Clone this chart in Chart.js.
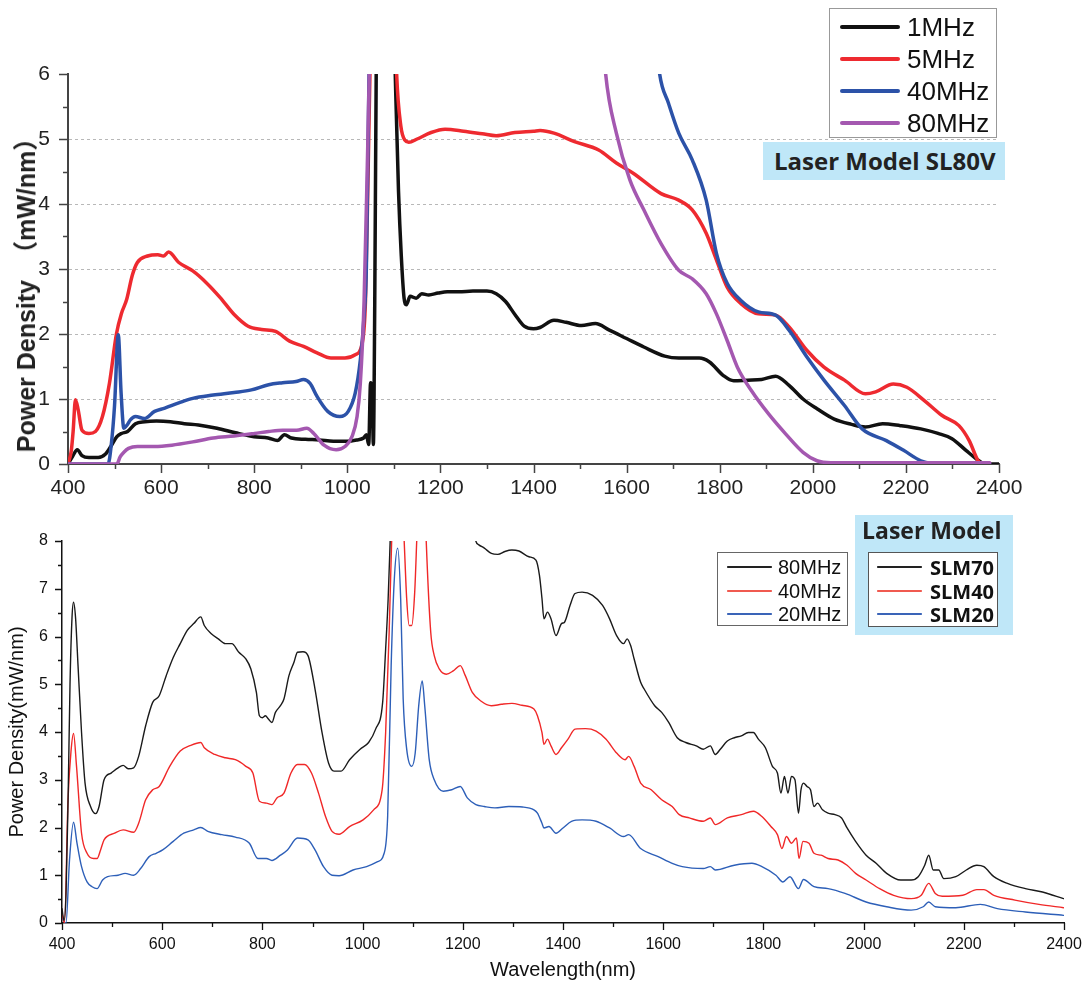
<!DOCTYPE html>
<html lang="en">
<head>
<meta charset="UTF-8">
<title>Laser power density spectra</title>
<script src="https://cdn.jsdelivr.net/npm/chart.js"></script>
<style>
  body { margin: 0; background: #fff; width: 1083px; height: 985px; position: relative; overflow: hidden; }
  canvas { position: absolute; left: 0; }
  #topChart { top: 0; }
  #bottomChart { top: 510px; }
  .box { position: absolute; box-sizing: border-box; }
  .row { position: absolute; display: flex; align-items: center; white-space: nowrap; }
  .swatch { display: inline-block; }
  .ytitle { position: absolute; white-space: pre; transform: translate(-50%, -50%) rotate(-90deg);
            font: bold 25px 'Liberation Sans', 'Noto Sans CJK SC', sans-serif; color: #222; }
</style>
</head>
<body>
<canvas id="topChart" width="1083" height="510"></canvas>
<canvas id="bottomChart" width="1083" height="475"></canvas>

<div class="ytitle" style="left:24px; top:289px;">Power Density  （mW/nm）</div>

<!-- top legend -->
<div class="box" style="left:829px; top:8px; width:168px; height:130px; border:1.5px solid #999; background:#fff;"></div>
<div id="topLegend"></div>
<div class="box" style="left:763px; top:142px; width:242px; height:38px; background:#bfe7f8;
     font: bold 24px 'Open Sans', sans-serif; color:#222; line-height:38px; padding-left:11px;">Laser Model SL80V</div>

<!-- bottom legends -->
<div class="box" style="left:717px; top:552px; width:131px; height:74px; border:1.5px solid #666; background:#fff;"></div>
<div class="box" style="left:855px; top:515px; width:158px; height:120px; background:#bfe7f8;"></div>
<div class="box" style="left:862px; top:514px; font: bold 23px 'Open Sans', sans-serif; color:#222; line-height:32px;">Laser Model</div>
<div class="box" style="left:868px; top:552px; width:130px; height:75px; border:1.5px solid #555; background:#fff;"></div>
<div id="bottomLegend"></div>

<script>
// ---- top chart data: [wavelength nm, mW/nm] ----
const top1MHz = [[400,0],[410,0.12],[420,0.22],[430,0.13],[445,0.1],[465,0.1],[480,0.15],[492,0.27],[505,0.42],
  [515,0.47],[528,0.5],[545,0.62],[565,0.65],[590,0.66],[620,0.65],[650,0.62],[680,0.6],[720,0.55],[760,0.48],
  [800,0.42],[830,0.4],[850,0.36],[865,0.45],[880,0.4],[910,0.38],[940,0.37],[970,0.35],[1000,0.35],[1020,0.37],
  [1035,0.4],[1041,0.45],[1046,0.3],[1050,1.25],[1053,1.2],[1056,0.3],[1059,2.5],[1063,7],[1080,12],[1096,8],
  [1103,6],[1110,4.2],[1116,3.2],[1122,2.55],[1127,2.45],[1135,2.58],[1148,2.55],[1160,2.62],[1175,2.6],[1195,2.63],
  [1215,2.65],[1240,2.65],[1270,2.66],[1300,2.66],[1320,2.62],[1340,2.5],[1360,2.3],[1380,2.12],[1400,2.08],
  [1414,2.1],[1444,2.21],[1470,2.18],[1503,2.13],[1533,2.16],[1563,2.06],[1600,1.93],[1637,1.8],[1682,1.66],
  [1712,1.63],[1756,1.63],[1778,1.57],[1808,1.36],[1830,1.28],[1860,1.29],[1890,1.3],[1920,1.35],[1949,1.21],
  [1979,1.0],[2009,0.85],[2046,0.69],[2083,0.61],[2113,0.57],[2150,0.62],[2188,0.59],[2232,0.54],[2269,0.47],
  [2299,0.39],[2329,0.21],[2351,0.08],[2366,0.01],[2380,0],[2400,0]];
const top5MHz = [[400,0],[407,0.2],[411,0.5],[416,0.99],[422,0.83],[430,0.52],[445,0.47],[459,0.5],[474,0.73],
  [489,1.24],[504,2.0],[515,2.32],[526,2.53],[538,2.9],[549,3.1],[571,3.2],[593,3.22],[605,3.2],[616,3.26],
  [638,3.1],[668,2.97],[697,2.79],[727,2.56],[757,2.3],[787,2.12],[816,2.07],[846,2.04],[876,1.89],[906,1.81],
  [935,1.71],[965,1.63],[995,1.63],[1017,1.68],[1032,1.86],[1039,2.5],[1045,4.6],[1050,6.5],[1075,12],[1100,7.5],
  [1106,6],[1115,5.2],[1124,4.98],[1132,4.95],[1150,5.0],[1180,5.1],[1210,5.15],[1250,5.12],[1290,5.08],
  [1320,5.05],[1360,5.1],[1400,5.12],[1414,5.13],[1444,5.09],[1488,4.96],[1540,4.83],[1578,4.63],[1615,4.47],
  [1674,4.16],[1712,4.06],[1741,3.91],[1771,3.55],[1793,3.14],[1816,2.72],[1845,2.47],[1883,2.31],[1920,2.29],
  [1949,2.11],[1987,1.75],[2024,1.49],[2068,1.29],[2113,1.08],[2135,1.11],[2173,1.23],[2202,1.18],[2239,0.98],
  [2277,0.75],[2314,0.59],[2336,0.36],[2355,0.05],[2363,0]];
const top40MHz = [[400,0],[486,0],[493,0.3],[500,0.9],[508,1.99],[514,1.1],[520,0.55],[527,0.6],[534,0.68],
  [545,0.73],[564,0.7],[586,0.81],[608,0.86],[638,0.94],[668,1.01],[712,1.06],[757,1.1],[794,1.14],[831,1.22],
  [861,1.25],[890,1.27],[906,1.3],[920,1.24],[935,1.04],[958,0.81],[984,0.73],[1002,0.81],[1017,1.09],[1028,1.6],
  [1036,2.27],[1041,3.04],[1047,6.2],[1060,12],[1600,12],[1650,7.5],[1671,6.0],[1690,5.55],[1712,5.09],
  [1741,4.68],[1771,4.06],[1793,3.24],[1816,2.78],[1845,2.52],[1883,2.34],[1920,2.29],[1949,2.06],[1987,1.65],
  [2024,1.29],[2068,0.9],[2106,0.54],[2158,0.36],[2195,0.21],[2232,0.05],[2254,0.01],[2300,0],[2380,0]];
const top80MHz = [[400,0],[505,0],[512,0.11],[520,0.18],[530,0.24],[549,0.27],[586,0.27],[623,0.29],[668,0.34],
  [712,0.4],[757,0.43],[801,0.47],[831,0.5],[861,0.52],[891,0.52],[913,0.55],[928,0.47],[950,0.29],[976,0.22],
  [995,0.27],[1010,0.42],[1021,0.73],[1028,1.24],[1036,2.5],[1043,4.6],[1048,6.3],[1060,12],[1500,12],[1540,7.5],
  [1555,6.0],[1578,5.09],[1607,4.37],[1637,3.91],[1674,3.39],[1712,2.98],[1741,2.85],[1771,2.62],[1793,2.31],
  [1816,1.9],[1838,1.49],[1868,1.13],[1905,0.77],[1942,0.46],[1979,0.18],[2009,0.05],[2039,0.02],[2380,0.02]];

// ---- bottom chart data ----
const slm80MHz = [[400,0.3],[404,0.05],[408,0.6],[412,2.5],[416,5.0],[420,6.4],[423,6.72],[427,6.4],[432,5.39],
  [439,3.99],[446,2.93],[457,2.44],[467,2.29],[474,2.44],[484,3.0],[498,3.14],[512,3.25],[522,3.3],[532,3.23],
  [543,3.25],[553,3.49],[567,4.13],[581,4.62],[594,4.76],[608,5.18],[622,5.56],[636,5.85],[650,6.13],[663,6.27],
  [677,6.41],[684,6.23],[698,6.06],[712,5.95],[726,5.85],[739,5.85],[753,5.67],[767,5.53],[777,5.32],[788,4.83],
  [794,4.34],[800,4.3],[806,4.34],[812,4.27],[819,4.2],[826,4.41],[836,4.55],[843,4.69],[853,5.18],[863,5.46],
  [870,5.67],[881,5.68],[891,5.6],[905,4.9],[919,3.99],[932,3.35],[943,3.18],[957,3.18],[974,3.42],[995,3.64],
  [1012,3.78],[1026,4.06],[1040,4.62],[1046,5.74],[1051,6.79],[1055,8.0],[1060,9.5],[1100,12],[1200,12],
  [1220,8.5],[1226,8.0],[1232,7.92],[1243,7.85],[1257,7.74],[1270,7.72],[1284,7.78],[1298,7.81],[1312,7.79],
  [1332,7.67],[1346,7.6],[1353,7.28],[1358,6.8],[1362,6.37],[1369,6.51],[1376,6.37],[1386,6.02],[1397,6.27],
  [1403,6.3],[1414,6.65],[1424,6.9],[1438,6.93],[1459,6.86],[1479,6.65],[1493,6.37],[1507,6.02],[1521,5.85],
  [1528,5.95],[1535,5.81],[1542,5.53],[1555,5.04],[1562,4.9],[1583,4.55],[1597,4.41],[1611,4.2],[1628,3.88],
  [1645,3.78],[1666,3.71],[1680,3.64],[1694,3.71],[1704,3.53],[1714,3.64],[1728,3.81],[1742,3.88],[1756,3.92],
  [1770,3.99],[1780,3.99],[1790,3.85],[1804,3.67],[1818,3.28],[1828,3.14],[1835,2.72],[1842,3.07],[1849,2.72],
  [1856,3.07],[1863,3.0],[1870,2.3],[1875,2.79],[1880,2.93],[1887,2.86],[1894,2.79],[1901,2.44],[1908,2.51],
  [1918,2.37],[1929,2.3],[1943,2.27],[1956,2.2],[1967,1.99],[1984,1.71],[2005,1.42],[2025,1.25],[2046,1.04],
  [2074,0.9],[2095,0.9],[2109,0.97],[2122,1.21],[2130,1.42],[2139,1.11],[2150,1.11],[2160,0.93],[2184,0.97],
  [2205,1.11],[2226,1.21],[2240,1.18],[2260,0.97],[2287,0.83],[2323,0.72],[2357,0.65],[2399,0.51]];
const slm40MHz = [[400,0.2],[405,0.0],[412,2.58],[418,3.6],[423,3.97],[429,3.28],[439,1.88],[450,1.46],[463,1.35],
  [470,1.35],[477,1.53],[484,1.74],[505,1.88],[522,1.95],[543,1.9],[553,2.09],[567,2.58],[581,2.79],[594,2.86],
  [615,3.28],[636,3.6],[657,3.72],[677,3.78],[684,3.67],[705,3.53],[726,3.46],[746,3.42],[767,3.28],[781,3.14],
  [794,2.55],[808,2.51],[819,2.48],[829,2.62],[843,2.72],[857,3.14],[870,3.32],[884,3.32],[898,3.14],[912,2.72],
  [926,2.23],[939,1.92],[953,1.86],[974,2.02],[1001,2.16],[1022,2.37],[1039,2.79],[1046,3.99],[1053,6.09],
  [1058,8.0],[1070,11],[1083,8.0],[1088,6.79],[1093,6.23],[1098,6.23],[1104,6.93],[1108,8.0],[1118,11],[1127,8.0],
  [1136,6.09],[1143,5.6],[1153,5.32],[1167,5.21],[1181,5.28],[1195,5.39],[1205,5.18],[1219,4.83],[1236,4.65],
  [1257,4.55],[1277,4.58],[1298,4.6],[1318,4.56],[1342,4.48],[1349,4.34],[1358,3.99],[1362,3.74],[1369,3.85],
  [1376,3.71],[1386,3.53],[1397,3.67],[1410,3.85],[1424,4.06],[1445,4.07],[1466,4.02],[1486,3.85],[1507,3.56],
  [1524,3.42],[1531,3.49],[1542,3.28],[1555,2.93],[1576,2.79],[1597,2.58],[1618,2.44],[1632,2.27],[1652,2.2],
  [1680,2.13],[1694,2.2],[1704,2.06],[1728,2.2],[1756,2.27],[1780,2.34],[1797,2.23],[1815,2.02],[1828,1.85],
  [1837,1.56],[1846,1.81],[1856,1.67],[1866,1.78],[1871,1.35],[1879,1.71],[1891,1.67],[1901,1.46],[1915,1.42],
  [1929,1.35],[1949,1.32],[1967,1.21],[1984,1.04],[2005,0.9],[2032,0.72],[2060,0.58],[2095,0.51],[2115,0.58],
  [2130,0.83],[2143,0.62],[2157,0.56],[2198,0.58],[2226,0.7],[2240,0.7],[2260,0.58],[2302,0.48],[2350,0.39],
  [2399,0.32]];
const slm20MHz = [[400,0.1],[408,0.0],[415,1.32],[423,2.11],[430,1.67],[439,1.18],[450,0.86],[460,0.76],[470,0.72],
  [481,0.9],[491,0.97],[512,1.0],[526,1.04],[543,1.0],[557,1.14],[574,1.39],[588,1.46],[601,1.53],[622,1.71],
  [643,1.88],[663,1.95],[677,2.0],[691,1.92],[719,1.85],[746,1.8],[774,1.67],[791,1.35],[808,1.35],[819,1.31],
  [836,1.42],[850,1.53],[870,1.78],[891,1.74],[905,1.53],[922,1.18],[939,1.0],[953,0.99],[981,1.11],[1008,1.18],
  [1029,1.28],[1043,1.46],[1050,2.23],[1057,5.39],[1063,7.14],[1070,7.85],[1076,6.79],[1081,4.69],[1088,3.64],
  [1098,3.28],[1105,3.56],[1112,4.55],[1119,5.07],[1124,4.55],[1133,3.42],[1143,3.0],[1161,2.76],[1178,2.79],
  [1195,2.86],[1209,2.62],[1226,2.48],[1243,2.44],[1264,2.41],[1292,2.44],[1319,2.43],[1342,2.37],[1349,2.3],
  [1358,2.09],[1362,1.99],[1372,2.02],[1386,1.88],[1400,1.99],[1417,2.13],[1438,2.16],[1466,2.13],[1493,1.99],
  [1521,1.81],[1531,1.85],[1555,1.56],[1590,1.39],[1618,1.25],[1638,1.18],[1680,1.14],[1694,1.18],[1704,1.11],
  [1742,1.21],[1777,1.25],[1797,1.18],[1825,1.0],[1839,0.86],[1853,0.97],[1870,0.72],[1880,0.91],[1901,0.76],
  [1929,0.72],[1963,0.62],[2005,0.44],[2046,0.34],[2095,0.27],[2119,0.34],[2130,0.44],[2143,0.34],[2184,0.32],
  [2233,0.39],[2267,0.3],[2323,0.23],[2399,0.16]];

const topLabels = ['1MHz', '5MHz', '40MHz', '80MHz'];
const bottomLabels = ['80MHz', '40MHz', '20MHz'];
const modelLabels = ['SLM70', 'SLM40', 'SLM20'];

const ARIAL = "'Liberation Sans', Arial, sans-serif";
const topColors = ['#111111', '#ee2a30', '#2c52a8', '#a458b0'];
const bottomColors = ['#1a1a1a', '#f02828', '#2d5fb8'];

const pts = arr => arr.map(p => ({x: p[0], y: p[1]}));
const plain = v => String(v);

// draws major / minor tick marks outward from the axes
const tickMarks = {
  id: 'tickMarks',
  afterDraw(chart, args, o) {
    const {ctx, chartArea: a} = chart;
    const {x, y} = chart.scales;
    ctx.save();
    ctx.strokeStyle = o.color;
    ctx.lineWidth = o.width;
    ctx.beginPath();
    for (let v = x.min; v <= x.max + 1e-6; v += o.xMinor) {
      const px = Math.round(x.getPixelForValue(v)) + 0.5;
      const len = Math.abs((v - x.min) % o.xMajor) < 1e-6 ? o.major : o.minor;
      ctx.moveTo(px, a.bottom);
      ctx.lineTo(px, a.bottom + len);
    }
    for (let v = y.min; v <= y.max + 1e-6; v += o.yMinor) {
      const py = Math.round(y.getPixelForValue(v)) + 0.5;
      const len = Math.abs(v % 1) < 1e-6 ? o.major : o.minor;
      ctx.moveTo(a.left, py);
      ctx.lineTo(a.left - len, py);
    }
    ctx.stroke();
    ctx.restore();
  }
};

function lineSet(label, data, color, width, order) {
  return {
    label, data: pts(data), borderColor: color, backgroundColor: color, borderWidth: width,
    pointRadius: 0, fill: false, cubicInterpolationMode: 'monotone', order,
    borderJoinStyle: 'round', borderCapStyle: 'round'
  };
}

// fixed axis sizes so the plot area lands where the original one is
const fixW = w => s => { s.width = w; s.paddingTop = 0; s.paddingBottom = 0; };
const fixH = h => s => { s.height = h; s.paddingLeft = 0; s.paddingRight = 0; };

new Chart(document.getElementById('topChart'), {
  type: 'line',
  data: {
    datasets: [
      lineSet(topLabels[3], top80MHz, topColors[3], 3.5, 1),
      lineSet(topLabels[2], top40MHz, topColors[2], 3.5, 2),
      lineSet(topLabels[1], top5MHz, topColors[1], 3.5, 3),
      lineSet(topLabels[0], top1MHz, topColors[0], 3.5, 4)
    ]
  },
  options: {
    responsive: false, animation: false,
    layout: { padding: { left: 0, right: 84, top: 74, bottom: 0 } },
    plugins: {
      legend: { display: false }, tooltip: { enabled: false },
      tickMarks: { color: '#444', width: 1.5, major: 9, minor: 5, xMajor: 200, xMinor: 100, yMinor: 0.5 }
    },
    scales: {
      x: {
        type: 'linear', min: 400, max: 2400,
        ticks: { stepSize: 200, padding: 12, color: '#222', callback: plain, font: { family: ARIAL, size: 21 } },
        grid: { display: false, drawTicks: false },
        border: { display: true, color: '#444', width: 2 },
        afterFit: fixH(46)
      },
      y: {
        min: 0, max: 6,
        ticks: { stepSize: 1, padding: 18, color: '#222', callback: plain, font: { family: ARIAL, size: 21 } },
        grid: { drawTicks: false, color: c => (c.tick.value > 0 && c.tick.value < 6) ? '#b8b8b8' : 'rgba(0,0,0,0)' },
        border: { display: true, color: '#444', width: 2, dash: [3, 3] },
        afterFit: fixW(68)
      }
    }
  },
  plugins: [tickMarks]
});

new Chart(document.getElementById('bottomChart'), {
  type: 'line',
  data: {
    datasets: [
      lineSet(bottomLabels[0], slm80MHz, bottomColors[0], 1.4, 1),
      lineSet(bottomLabels[1], slm40MHz, bottomColors[1], 1.4, 2),
      lineSet(bottomLabels[2], slm20MHz, bottomColors[2], 1.4, 3)
    ]
  },
  options: {
    responsive: false, animation: false,
    layout: { padding: { left: 0, right: 19, top: 31, bottom: 0 } },
    plugins: {
      legend: { display: false }, tooltip: { enabled: false },
      tickMarks: { color: '#111', width: 1.3, major: 7, minor: 4, xMajor: 200, xMinor: 100, yMinor: 0.5 }
    },
    scales: {
      x: {
        type: 'linear', min: 400, max: 2400,
        ticks: { stepSize: 200, padding: 12, color: '#111', callback: plain, font: { family: ARIAL, size: 16 } },
        grid: { display: false, drawTicks: false },
        border: { display: true, color: '#111', width: 1.5 },
        title: { display: true, text: 'Wavelength(nm)', color: '#111', font: { family: ARIAL, size: 20 },
                 padding: { top: 0, bottom: 3 } },
        afterFit: fixH(62)
      },
      y: {
        min: 0, max: 8,
        ticks: { stepSize: 1, padding: 14, color: '#111', callback: plain, font: { family: ARIAL, size: 16 } },
        grid: { display: false, drawTicks: false },
        border: { display: true, color: '#111', width: 1.5 },
        title: { display: true, text: 'Power Density(mW/nm)', color: '#111', font: { family: ARIAL, size: 20 },
                 padding: { top: 5, bottom: 0 } },
        afterFit: fixW(62)
      }
    }
  },
  plugins: [tickMarks]
});

// HTML legends
function legendRows(holder, labels, colors, o) {
  labels.forEach((lab, i) => {
    const r = document.createElement('div');
    r.className = 'row';
    r.style.left = o.left + 'px';
    r.style.top = (o.centers[i] - o.h / 2) + 'px';
    r.style.height = o.h + 'px';
    r.style.font = o.font;
    r.style.color = '#111';
    const sw = document.createElement('span');
    sw.className = 'swatch';
    sw.style.width = o.sw + 'px';
    sw.style.height = o.thick + 'px';
    sw.style.background = colors[i];
    sw.style.borderRadius = (o.thick / 2) + 'px';
    sw.style.marginRight = o.gap + 'px';
    r.appendChild(sw);
    r.appendChild(document.createTextNode(lab));
    holder.appendChild(r);
  });
}
legendRows(document.getElementById('topLegend'), topLabels, topColors,
  { left: 840, centers: [27, 59, 91, 123], h: 32, font: "26px " + ARIAL, sw: 60, thick: 4, gap: 7 });
const bl = document.getElementById('bottomLegend');
legendRows(bl, bottomLabels, ['#222', '#f05a50', '#3a64b8'],
  { left: 727, centers: [567, 591, 614], h: 24, font: "20px " + ARIAL, sw: 45, thick: 1.6, gap: 6 });
legendRows(bl, modelLabels, ['#222', '#f05a50', '#3a64b8'],
  { left: 877, centers: [567, 591, 614], h: 24, font: "bold 20px 'Open Sans', sans-serif", sw: 45, thick: 1.6, gap: 8 });
</script>
</body>
</html>
